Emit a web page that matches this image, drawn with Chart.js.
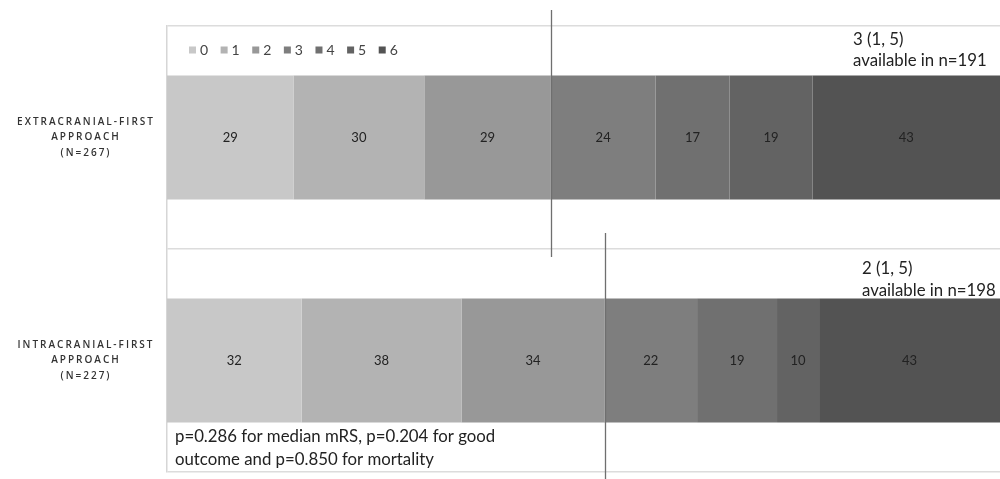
<!DOCTYPE html>
<html>
<head>
<meta charset="utf-8">
<script src="https://cdn.jsdelivr.net/npm/chart.js@4.4.1/dist/chart.umd.min.js"></script>
<style>
  html, body { margin: 0; padding: 0; background: #fff; }
  #wrap { width: 1000px; height: 479px; position: relative; }
</style>
</head>
<body>
<div id="wrap"><canvas id="c"></canvas></div>
<script>
// Treatment groups (row labels, one entry per line)
const groups = [
  ['EXTRACRANIAL-FIRST', 'APPROACH', '(N=267)'],
  ['INTRACRANIAL-FIRST', 'APPROACH', '(N=227)']
];
// mRS scores shown in the legend
const mrsScores = ['0', '1', '2', '3', '4', '5', '6'];
// Patient counts per mRS score, per group
const mrs0 = [29, 32];
const mrs1 = [30, 38];
const mrs2 = [29, 34];
const mrs3 = [24, 22];
const mrs4 = [17, 19];
const mrs5 = [19, 10];
const mrs6 = [43, 43];
// Median (IQR) mRS per group
const medianIqr = ['3 (1, 5)', '2 (1, 5)'];
// Statistical note
const pValueNote = ['p=0.286 for median mRS, p=0.204 for good', 'outcome and p=0.850 for mortality'];
// Highest score counted as a good outcome
const goodOutcomeMax = 2;

const shades = ['#c8c8c8', '#b3b3b3', '#989898', '#7e7e7e', '#707070', '#636363', '#535353'];

const countsByScore = [mrs0, mrs1, mrs2, mrs3, mrs4, mrs5, mrs6];
const totals = groups.map((_, g) => countsByScore.reduce((s, arr) => s + arr[g], 0));

const datasets = mrsScores.map((score, k) => ({
  label: score,
  counts: countsByScore[k],
  data: countsByScore[k].map((v, g) => v / totals[g] * 100),
  backgroundColor: shades[k],
  borderWidth: 0,
  categoryPercentage: 1,
  barPercentage: 0.555
}));

const textFont = '"Lato", "Open Sans", sans-serif';

const overlay = {
  id: 'overlay',
  afterDatasetsDraw(chart) {
    const ctx = chart.ctx;
    // value labels in each segment
    ctx.save();
    ctx.font = '13px ' + textFont;
    ctx.fillStyle = '#222';
    ctx.textAlign = 'center';
    ctx.textBaseline = 'middle';
    chart.data.datasets.forEach((ds, di) => {
      const meta = chart.getDatasetMeta(di);
      meta.data.forEach((bar, i) => {
        const cx = (bar.x + bar.base) / 2;
        ctx.fillText(String(ds.counts[i]), cx, bar.y);
      });
    });
    ctx.restore();
  },
  afterDraw(chart) {
    const ctx = chart.ctx;
    const area = chart.chartArea;
    const xs = chart.scales.x;
    const ys = chart.scales.y;

    // row labels with letter spacing
    ctx.save();
    ctx.font = '600 10px "Open Sans", sans-serif';
    ctx.fillStyle = '#333';
    ctx.textAlign = 'center';
    ctx.textBaseline = 'middle';
    ctx.letterSpacing = '2px';
    groups.forEach((lines, g) => {
      const cy = ys.getPixelForValue(g);
      lines.forEach((line, li) => {
        ctx.fillText(line, area.left - 81, cy + (li - 1) * 15.5);
      });
    });
    ctx.restore();

    // legend inside the plot area
    ctx.save();
    ctx.font = '14px ' + textFont;
    ctx.textBaseline = 'middle';
    let lx = area.left + 22;
    const ly = area.top + 24;
    chart.data.datasets.forEach(ds => {
      ctx.fillStyle = ds.backgroundColor;
      ctx.fillRect(lx, ly - 3.5, 7, 7);
      ctx.fillStyle = '#444';
      ctx.fillText(ds.label, lx + 11, ly);
      lx += 11 + ctx.measureText(ds.label).width + 12.5;
    });
    ctx.restore();

    // good-outcome divider (cumulative share of mRS 0..goodOutcomeMax)
    const band = (ys.getPixelForValue(1) - ys.getPixelForValue(0));
    ctx.save();
    ctx.strokeStyle = '#6f6f6f';
    ctx.lineWidth = 1.3;
    groups.forEach((_, g) => {
      let cum = 0;
      for (let k = 0; k <= goodOutcomeMax; k++) cum += chart.data.datasets[k].data[g];
      const x = Math.round(xs.getPixelForValue(cum)) + 0.5;
      const cy = ys.getPixelForValue(g);
      ctx.beginPath();
      ctx.moveTo(x, cy - band / 2 - 16);
      ctx.lineTo(x, cy + band / 2 + 8);
      ctx.stroke();
    });
    ctx.restore();

    // median (IQR) notes
    const noteShift = [[-147, -98, -77], [-138, -92, -70]];
    ctx.save();
    ctx.font = '16.8px ' + textFont;
    ctx.fillStyle = '#222';
    ctx.textAlign = 'left';
    ctx.textBaseline = 'middle';
    groups.forEach((_, g) => {
      const cy = ys.getPixelForValue(g);
      const [dx, dy1, dy2] = noteShift[g];
      ctx.fillText(medianIqr[g], area.right + dx, cy + dy1);
      ctx.fillText('available in n=' + totals[g], area.right + dx, cy + dy2);
    });
    ctx.restore();

    // p-value note
    ctx.save();
    ctx.font = '16.8px ' + textFont;
    ctx.fillStyle = '#222';
    ctx.textAlign = 'left';
    ctx.textBaseline = 'middle';
    pValueNote.forEach((line, i) => {
      ctx.fillText(line, area.left + 8, area.bottom - 35 + i * 23);
    });
    ctx.restore();
  }
};

new Chart(document.getElementById('c'), {
  type: 'bar',
  data: { labels: groups.map(l => l.join(' ')), datasets },
  options: {
    indexAxis: 'y',
    responsive: true,
    maintainAspectRatio: false,
    animation: false,
    layout: { padding: { left: 167, top: 26, right: 0, bottom: 7 } },
    plugins: { legend: { display: false }, tooltip: { enabled: false } },
    scales: {
      x: { stacked: true, min: 0, max: 100, display: false },
      y: {
        stacked: true,
        offset: true,
        ticks: { display: false },
        grid: { offset: true, color: '#dcdcdc', lineWidth: 1.5, drawTicks: false },
        border: { display: true, color: '#d6d6d6', width: 1.5 }
      }
    }
  },
  plugins: [overlay]
});
</script>
</body>
</html>
